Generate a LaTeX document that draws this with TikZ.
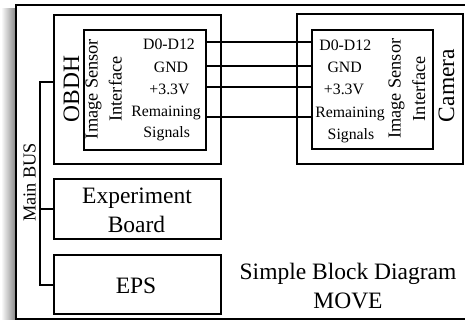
\documentclass[tikz,border=0pt]{standalone}
\usepackage{fontspec}
\setmainfont{Liberation Serif}
\newcommand\fbig{\fontsize{23.5}{28}\selectfont}
\newcommand\fmid{\fontsize{18.3}{22}\selectfont}
\newcommand\fsmall{\fontsize{15.8}{19}\selectfont}
\begin{document}
\begin{tikzpicture}[x=1pt,y=-1pt,
  box/.style={draw, rectangle, line width=2pt, inner sep=0pt, anchor=north west},
  wire/.style={line width=2pt},
  lbl/.style={inner sep=0pt, anchor=base}]
\useasboundingbox (0,0) rectangle (465,320);
\clip (0,0) rectangle (465,320);
% shadow and outer frame
\shade[left color=white, right color=black!45] (1,9) rectangle (15,320);
\draw[line width=2.4pt] (16,5) rectangle (472,319);
% boxes
\node[box, minimum width=167pt, minimum height=149pt] (obdh) at (53,14) {};
\node[box, minimum width=122pt, minimum height=120pt] (isiA) at (83,29) {};
\node[box, minimum width=166pt, minimum height=150pt] (cam) at (296,13) {};
\node[box, minimum width=121pt, minimum height=119pt] (isiB) at (311,29) {};
\node[box, minimum width=167pt, minimum height=60pt] (exp) at (53,178) {};
\node[box, minimum width=167pt, minimum height=59pt] (eps) at (53,254) {};
% rotated labels
\node[lbl, rotate=90] (tobdh) at (79,89.2) {\fbig OBDH};
\node[lbl, rotate=90] (tisA1) at (97.5,89) {\fmid Image Sensor};
\node[lbl, rotate=90] (tisA2) at (121.5,89) {\fmid Interface};
\node[lbl, rotate=90] (tisB1) at (400.5,88.8) {\fmid Image Sensor};
\node[lbl, rotate=90] (tisB2) at (425,88.7) {\fmid Interface};
\node[lbl, rotate=90] (tcam) at (454,85.5) {\fbig Camera};
\node[lbl, rotate=90] (tbus) at (35.5,182.5) {\fmid Main BUS};
% signal labels OBDH side
\node[lbl] (a1) at (169,49.3) {\fsmall D0-D12};
\node[lbl] (a2) at (171,72.3) {\fsmall GND};
\node[lbl] (a3) at (169.5,95) {\fsmall +3.3V};
\node[lbl] (a4) at (166,117) {\fsmall Remaining};
\node[lbl] (a5) at (166.7,137.5) {\fsmall Signals};
% signal labels camera side
\node[lbl] (b1) at (345.3,50.5) {\fsmall D0-D12};
\node[lbl] (b2) at (344.7,72.7) {\fsmall GND};
\node[lbl] (b3) at (344,95) {\fsmall +3.3V};
\node[lbl] (b4) at (350,118) {\fsmall Remaining};
\node[lbl] (b5) at (351,140) {\fsmall Signals};
% other texts
\node[lbl] (e1) at (137,203.5) {\fbig Experiment};
\node[lbl] (e2) at (136.5,233) {\fbig Board};
\node[lbl] (p1) at (136,293.3) {\fbig EPS};
\node[lbl] (m1) at (348,279.3) {\fbig Simple Block Diagram};
\node[lbl] (m2) at (348,308.3) {\fbig MOVE};
% signal wires
\coordinate (s1) at (0,42.3);
\coordinate (s2) at (0,65.7);
\coordinate (s3) at (0,87.3);
\coordinate (s4) at (0,117.3);
\foreach \s in {s1,s2,s3,s4}
  \draw[wire] (isiA.east |- \s) -- (isiB.west |- \s);
% main bus
\coordinate (bt) at (39.5,81.7);
\draw[wire] (obdh.west |- bt) -- (bt) |- (eps.west);
\draw[wire] (exp.west) -- (exp.west -| bt);
\end{tikzpicture}
\end{document}
